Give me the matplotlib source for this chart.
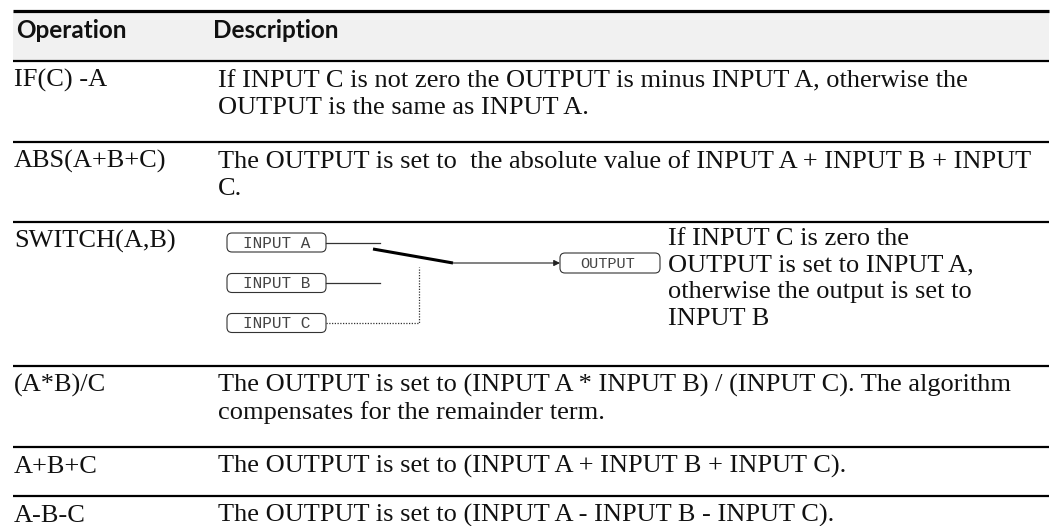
import matplotlib.pyplot as plt
from matplotlib.patches import FancyBboxPatch, Rectangle

# table content
headers = ['Operation', 'Description']
operations = ['IF(C) -A', 'ABS(A+B+C)', 'SWITCH(A,B)', '(A*B)/C', 'A+B+C', 'A-B-C']
descriptions = [
    ['If INPUT C is not zero the OUTPUT is minus INPUT A, otherwise the',
     'OUTPUT is the same as INPUT A.'],
    ['The OUTPUT is set to  the absolute value of INPUT A + INPUT B + INPUT',
     'C.'],
    ['If INPUT C is zero the', 'OUTPUT is set to INPUT A,',
     'otherwise the output is set to', 'INPUT B'],
    ['The OUTPUT is set to (INPUT A * INPUT B) / (INPUT C). The algorithm',
     'compensates for the remainder term.'],
    ['The OUTPUT is set to (INPUT A + INPUT B + INPUT C).'],
    ['The OUTPUT is set to (INPUT A - INPUT B - INPUT C).'],
]
switch_inputs = ['INPUT A', 'INPUT B', 'INPUT C']
switch_output = 'OUTPUT'

# layout in pixels
W, H = 1058, 526
left, right = 13, 1049
col2 = 217
header_top, header_bot = 11, 61
row_tops = [61, 142, 222, 366, 447, 496]
line_h = 26.7

fig = plt.figure(figsize=(W / 100, H / 100), dpi=100)
ax = fig.add_axes([0, 0, 1, 1])
ax.set_xlim(0, W)
ax.set_ylim(H, 0)
ax.axis('off')

serif = 'Liberation Serif'
body_size = 19

# header
ax.add_patch(Rectangle((left, header_top), right - left, header_bot - header_top,
                       facecolor='#f1f1f1', edgecolor='none'))
ax.plot([left, right], [header_top, header_top], color='black', lw=2.3,
        solid_capstyle='butt')
ax.text(16, 38, headers[0], family='Lato', fontweight='bold', fontsize=17.5,
        va='baseline', color='#111111')
ax.text(col2 - 4, 38, headers[1], family='Lato', fontweight='bold', fontsize=17.5,
        va='baseline', color='#111111')

# rows
for i, top in enumerate(row_tops):
    ax.plot([left, right], [top, top], color='black', lw=1.6, solid_capstyle='butt')
    base = top + 26
    ax.text(14, base, operations[i], family=serif, fontsize=body_size,
            va='baseline', color='#111111')
    if i == 2:
        dx, dbase = 668, top + 23
    else:
        dx, dbase = col2 + 1, base
    for k, line in enumerate(descriptions[i]):
        ax.text(dx, dbase + k * line_h, line, family=serif, fontsize=body_size,
                va='baseline', color='#111111')

# switch diagram
mono = 'Liberation Mono'
box_w, box_h = 99, 19
box_x = 227
box_cy = [242.5, 283, 323]
for name, cy in zip(switch_inputs, box_cy):
    ax.add_patch(FancyBboxPatch((box_x, cy - box_h / 2), box_w, box_h,
                                boxstyle='round,pad=0,rounding_size=5',
                                facecolor='white', edgecolor='#333333', lw=0.8))
    ax.text(box_x + box_w / 2, cy + 0.5, name, family=mono, fontsize=11.5,
            ha='center', va='center', color='#444444')

# input wires
ax.plot([box_x + box_w, 380], [box_cy[0], box_cy[0]], color='#333333', lw=0.9)
ax.plot([box_x + box_w, 380], [box_cy[1], box_cy[1]], color='#333333', lw=0.9)
ax.plot([box_x + box_w, 419, 419], [box_cy[2], box_cy[2], 267], color='#333333',
        lw=0.9, linestyle=(0, (1, 1.2)))
# switch blade
ax.plot([373, 453], [249, 263], color='black', lw=2.2, solid_capstyle='butt')
# output wire with arrow
out_x, out_cy, out_w, out_h = 560, 263, 100, 20
ax.annotate('', xy=(out_x, out_cy), xytext=(453, out_cy),
            arrowprops=dict(arrowstyle='-|>', color='#222222', lw=0.8,
                            mutation_scale=9, shrinkA=0, shrinkB=0))
ax.add_patch(FancyBboxPatch((out_x, out_cy - out_h / 2), out_w, out_h,
                            boxstyle='round,pad=0,rounding_size=5',
                            facecolor='white', edgecolor='#333333', lw=0.8))
ax.text(out_x + out_w / 2 - 2, out_cy + 0.5, switch_output, family=mono,
        fontsize=11, ha='center', va='center', color='#444444')

fig.savefig('out.png', dpi=100)
